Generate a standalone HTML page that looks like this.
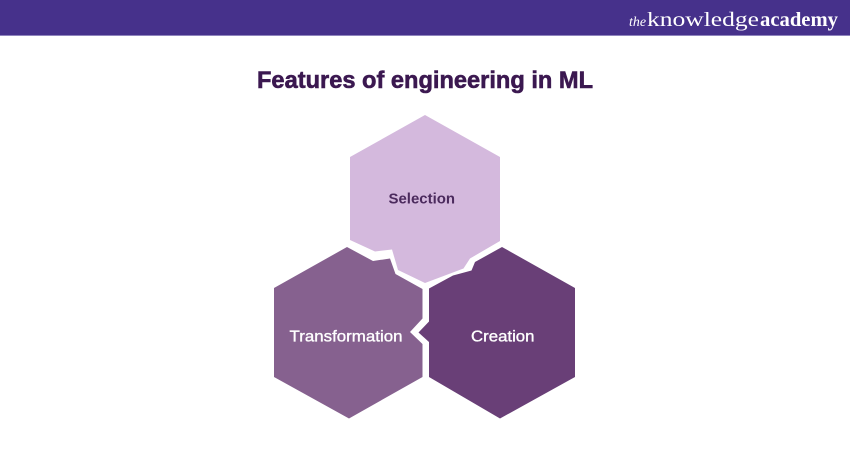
<!DOCTYPE html>
<html>
<head>
<meta charset="utf-8">
<style>
  html,body{margin:0;padding:0;background:#ffffff;}
  body{width:850px;height:450px;overflow:hidden;}
  svg{display:block;}
</style>
</head>
<body>
<svg width="850" height="450" viewBox="0 0 850 450" xmlns="http://www.w3.org/2000/svg">
  <rect x="0" y="0" width="850" height="450" fill="#ffffff"/>
  <!-- header bar -->
  <rect x="0" y="0" width="850" height="35.5" fill="#46318b"/>
  <rect x="0" y="35" width="850" height="1" fill="#8f84bd"/>
  <!-- logo -->
  <text x="629" y="26" font-family="'Liberation Serif', serif" font-style="italic" font-size="14" fill="#ffffff" textLength="17" lengthAdjust="spacingAndGlyphs">the</text>
  <text x="647" y="26" font-family="'Liberation Serif', serif" font-size="20" fill="#ffffff" textLength="112" lengthAdjust="spacingAndGlyphs">knowledge</text>
  <text x="760" y="26" font-family="'Liberation Serif', serif" font-weight="bold" font-size="20" fill="#ffffff" textLength="78" lengthAdjust="spacingAndGlyphs">academy</text>

  <!-- title -->
  <text x="257" y="88" font-family="'Liberation Sans', sans-serif" font-weight="bold" font-size="24" fill="#3b1850" stroke="#3b1850" stroke-width="0.6" textLength="336" lengthAdjust="spacingAndGlyphs">Features of engineering in ML</text>

  <!-- top hexagon: Selection -->
  <polygon fill="#d4b9dd" points="425,115 500,157 500,241 470,258.5 463.5,268.5 425,283 398,270 392,249.5 375,251.5 350,240 350,157"/>
  <!-- bottom-left hexagon: Transformation -->
  <polygon fill="#86618f" points="347,247 373,261 390,258.5 395.5,274 422.5,289 422.5,318.5 410,332 422.5,344 422.5,377 349,418.5 274,377 274,288"/>
  <!-- bottom-right hexagon: Creation -->
  <polygon fill="#693f77" points="502,247 575,288 575,377 500,418.5 429,377 429,342 418.5,332.5 429,321.5 429,288.5 453,275.5 471.5,270.5 475,262"/>

  <!-- labels -->
  <text x="388.5" y="203.3" font-family="'Liberation Sans', sans-serif" font-weight="bold" font-size="15" fill="#4b2a5d" textLength="66.5" lengthAdjust="spacingAndGlyphs">Selection</text>
  <text x="289.5" y="341.5" font-family="'Liberation Sans', sans-serif" font-size="16" fill="#ffffff" stroke="#ffffff" stroke-width="0.35" textLength="113" lengthAdjust="spacingAndGlyphs">Transformation</text>
  <text x="471" y="341.5" font-family="'Liberation Sans', sans-serif" font-size="16" fill="#ffffff" stroke="#ffffff" stroke-width="0.35" textLength="63.5" lengthAdjust="spacingAndGlyphs">Creation</text>
</svg>
</body>
</html>
